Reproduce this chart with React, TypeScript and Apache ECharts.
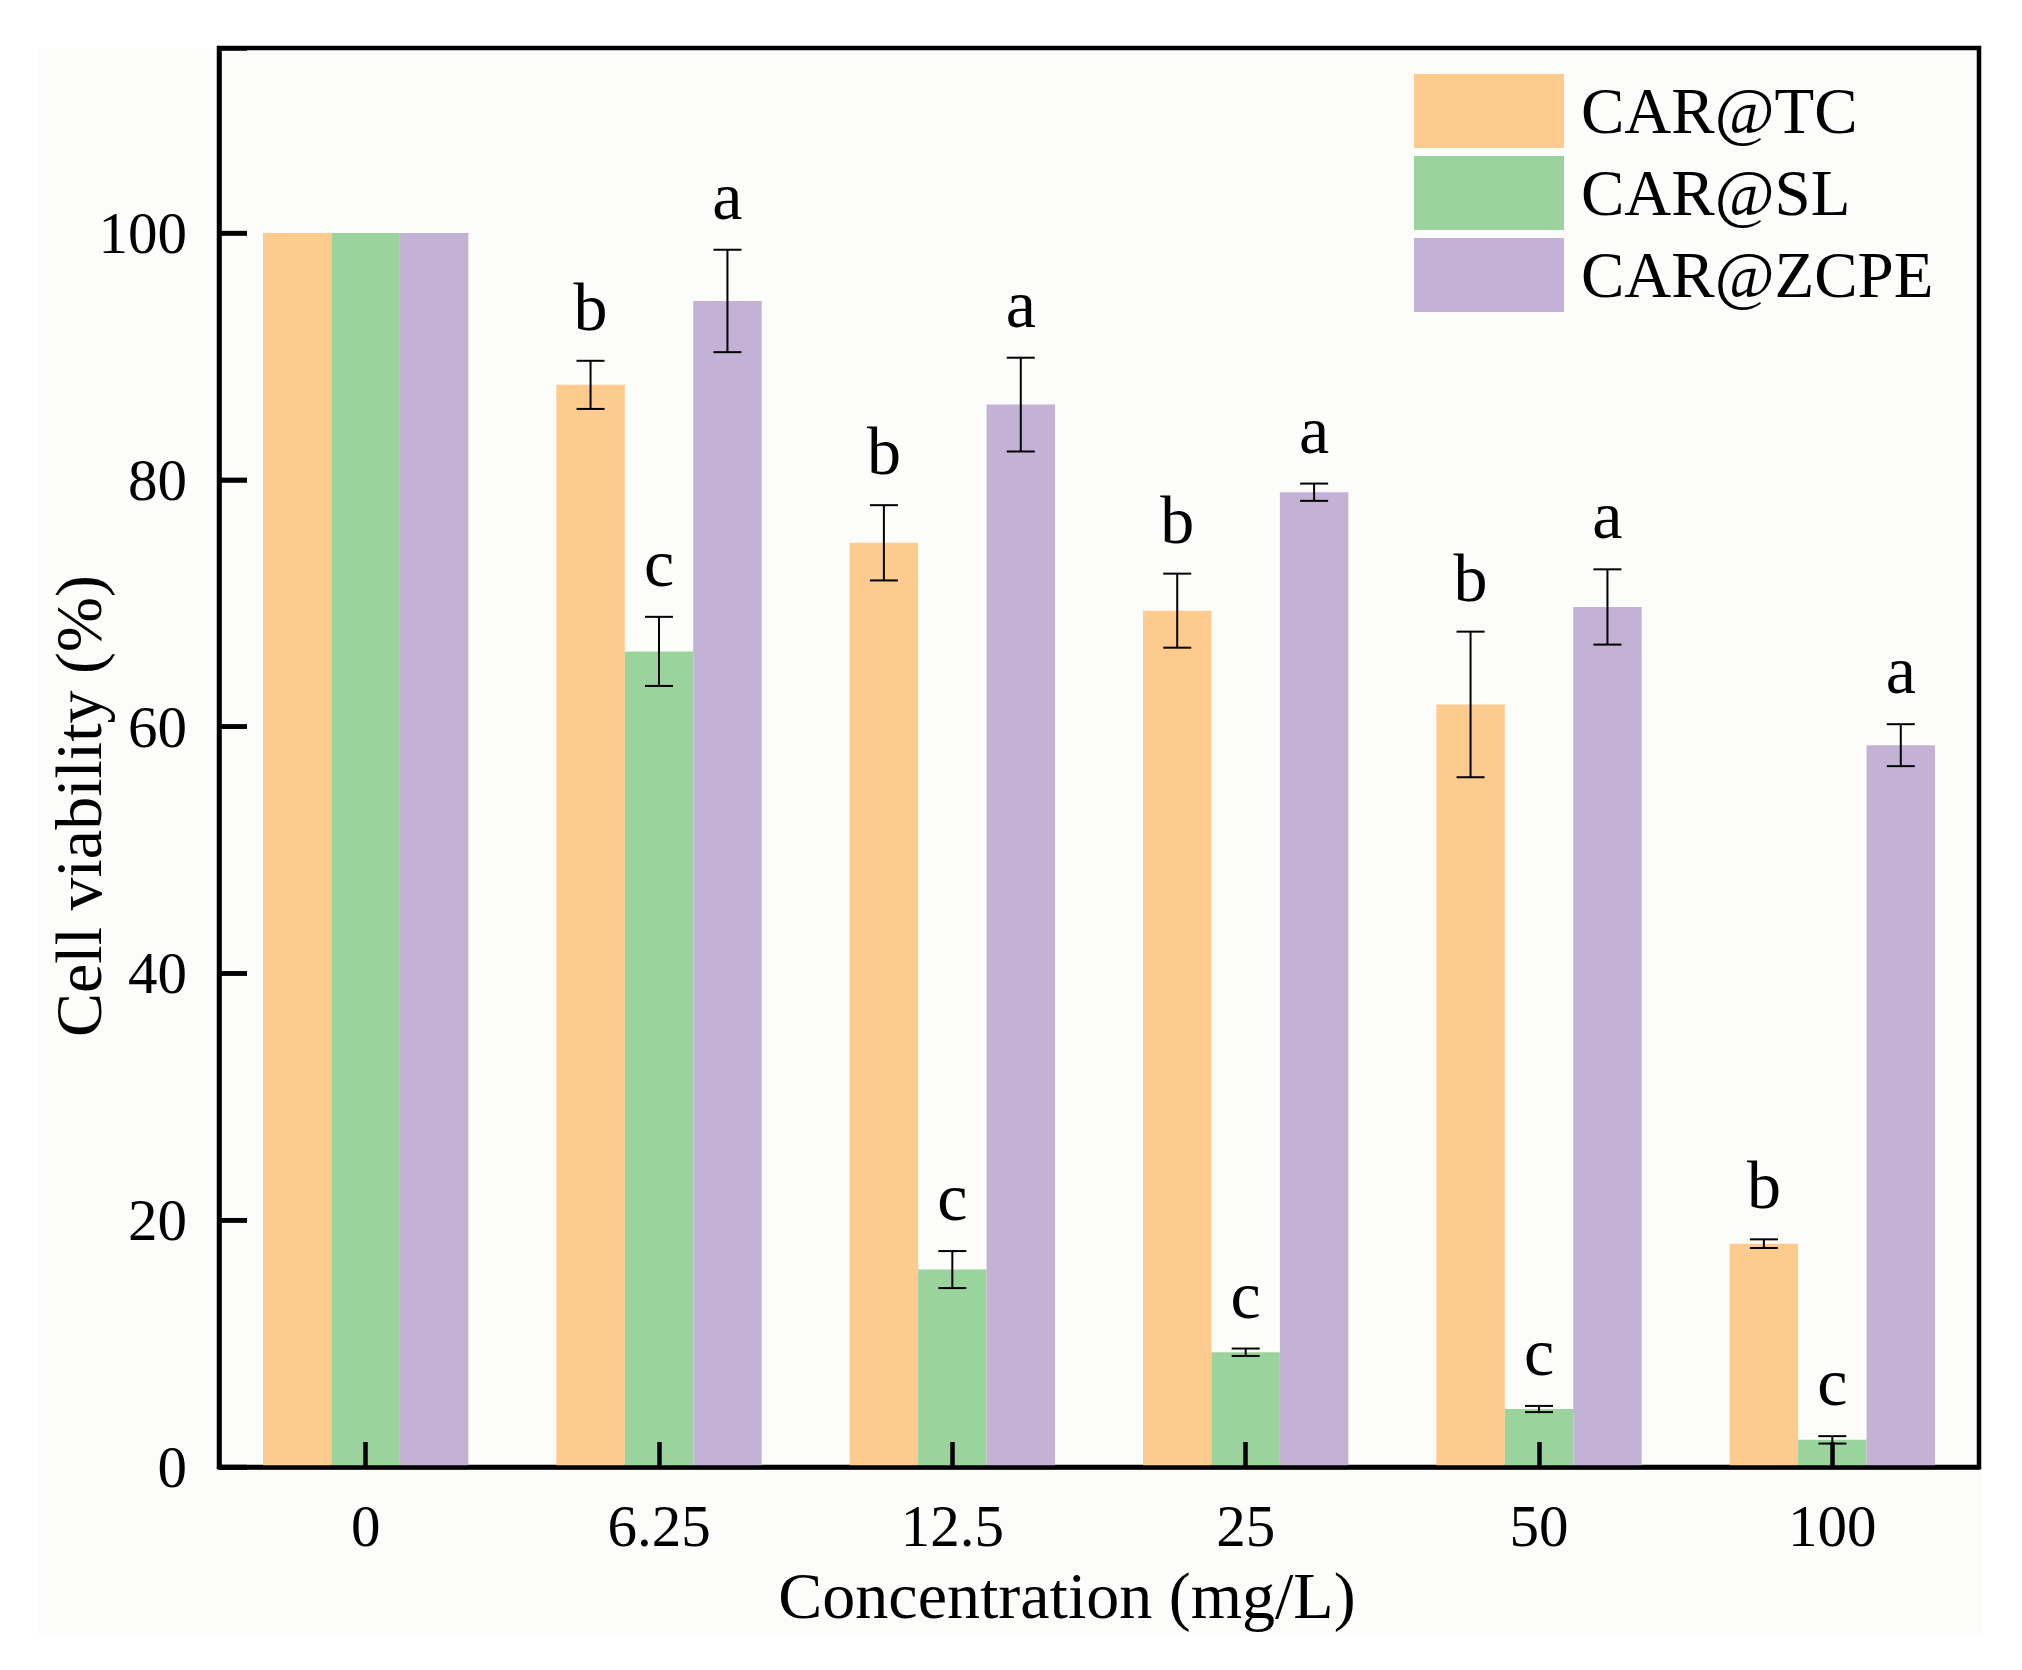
import React, { useEffect, useRef } from "react";
import * as echarts from "echarts";

const categories = ["0", "6.25", "12.5", "25", "50", "100"];
const seriesNames = ["CAR@TC", "CAR@SL", "CAR@ZCPE"];

const tcValues = [100, 87.7, 74.9, 69.4, 61.8, 18.1];
const tcErrors = [0, 1.95, 3.05, 3.0, 5.9, 0.35];
const tcLetters = ["", "b", "b", "b", "b", "b"];

const slValues = [100, 66.1, 16.0, 9.3, 4.7, 2.2];
const slErrors = [0, 2.8, 1.5, 0.3, 0.25, 0.3];
const slLetters = ["", "c", "c", "c", "c", "c"];

const zcpeValues = [100, 94.5, 86.1, 79.0, 69.7, 58.5];
const zcpeErrors = [0, 4.15, 3.8, 0.7, 3.05, 1.7];
const zcpeLetters = ["", "a", "a", "a", "a", "a"];

const yTicks = [0, 20, 40, 60, 80, 100];

const colors = ["#FECB8F", "#9AD39B", "#C4B2D6"];
const FONT = "'Liberation Serif', 'Times New Roman', serif";

export default function App() {
  const ref = useRef<HTMLDivElement>(null);

  useEffect(() => {
    if (!ref.current) return;
    const chart = echarts.init(ref.current, null, { renderer: "svg" });

    const groups = [
      { values: tcValues, errors: tcErrors, letters: tcLetters },
      { values: slValues, errors: slErrors, letters: slLetters },
      { values: zcpeValues, errors: zcpeErrors, letters: zcpeLetters },
    ];

    const barSeries = groups.map((g, si) => ({
      name: seriesNames[si],
      type: "bar",
      data: g.values,
      barGap: "0%",
      barCategoryGap: "30%",
      itemStyle: { color: colors[si] },
      z: 2,
    }));

    const errSeries = groups.map((g, si) => ({
      name: seriesNames[si] + " error",
      type: "custom",
      silent: true,
      z: 5,
      encode: { x: 0, y: 1 },
      data: g.values.map((v, i) => [i, v, g.errors[i]]),
      renderItem: (params: any, api: any) => {
        const idx = api.value(0);
        const val = api.value(1);
        const err = api.value(2);
        const letter = g.letters[params.dataIndex];
        if (!err) return { type: "group", children: [] };
        const band = api.size([1, 0])[0];
        const barW = (band * 0.7) / 3;
        const cx = api.coord([idx, val])[0] + (si - 1) * barW;
        const yTop = api.coord([idx, val + err])[1];
        const yBot = api.coord([idx, val - err])[1];
        const cap = 14;
        const ls = { stroke: "#000", lineWidth: 2 };
        return {
          type: "group",
          children: [
            { type: "line", shape: { x1: cx, y1: yTop, x2: cx, y2: yBot }, style: ls },
            { type: "line", shape: { x1: cx - cap, y1: yTop, x2: cx + cap, y2: yTop }, style: ls },
            { type: "line", shape: { x1: cx - cap, y1: yBot, x2: cx + cap, y2: yBot }, style: ls },
            {
              type: "text",
              style: {
                text: letter,
                x: cx,
                y: yTop - 20,
                align: "center",
                verticalAlign: "bottom",
                fontSize: 68,
                fontFamily: FONT,
                fill: "#000",
              },
            },
          ],
        };
      },
    }));

    // inward ticks of the y axis, placed through the axis scale
    const yTickSeries = {
      name: "y ticks",
      type: "custom",
      silent: true,
      z: 20,
      encode: { x: 0, y: 1 },
      data: yTicks.map((v) => [0, v]),
      renderItem: (params: any, api: any) => {
        const y = api.coord([0, api.value(1)])[1];
        const x0 = params.coordSys.x;
        return {
          type: "line",
          shape: { x1: x0, y1: y, x2: x0 + 28, y2: y },
          style: { stroke: "#000", lineWidth: 4.5 },
        };
      },
    };

    chart.setOption({
      animation: false,
      backgroundColor: "transparent",
      grid: {
        left: 219,
        top: 48,
        width: 1760,
        height: 1419,
        show: true,
        borderColor: "#000",
        borderWidth: 4.5,
        backgroundColor: "transparent",
      },
      legend: {
        data: seriesNames,
        orient: "vertical",
        left: 1409,
        top: 69,
        itemWidth: 150,
        itemHeight: 74,
        itemGap: 8,
        icon: "rect",
        selectedMode: false,
        textStyle: {
          fontSize: 65,
          fontFamily: FONT,
          color: "#000",
          padding: [0, 0, 0, 12],
        },
      },
      xAxis: {
        type: "category",
        data: categories,
        zlevel: 1,
        z: 10,
        axisLine: { lineStyle: { color: "#000", width: 4.5 } },
        axisTick: {
          show: true,
          alignWithLabel: true,
          inside: false,
          length: -25,
          lineStyle: { color: "#000", width: 4.5 },
        },
        axisLabel: {
          fontSize: 59,
          fontFamily: FONT,
          color: "#000",
          margin: 29,
        },
      },
      yAxis: {
        type: "value",
        min: 0,
        max: 115,
        interval: 20,
        zlevel: 1,
        z: 10,
        splitLine: { show: false },
        axisLine: { show: true, lineStyle: { color: "#000", width: 4.5 } },
        axisTick: {
          show: true,
          inside: true,
          length: 28,
          lineStyle: { color: "#000", width: 4.5 },
        },
        axisLabel: {
          fontSize: 59,
          fontFamily: FONT,
          color: "#000",
          margin: 32,
          formatter: (v: number) => (yTicks.indexOf(v) >= 0 ? String(v) : ""),
        },
      },
      graphic: [
        {
          type: "text",
          x: 1067,
          y: 1595,
          style: {
            text: "Concentration (mg/L)",
            align: "center",
            verticalAlign: "middle",
            fontSize: 66,
            fontFamily: FONT,
            fill: "#000",
          },
        },
        {
          type: "text",
          x: 78,
          y: 806,
          rotation: Math.PI / 2,
          style: {
            text: "Cell viability (%)",
            align: "center",
            verticalAlign: "middle",
            fontSize: 66,
            fontFamily: FONT,
            fill: "#000",
          },
        },
      ],
      series: [...barSeries, ...errSeries, yTickSeries],
    });

    return () => chart.dispose();
  }, []);

  return (
    <div
      style={{
        position: "fixed",
        left: 0,
        top: 0,
        width: 2022,
        height: 1670,
        background: "#ffffff",
      }}
    >
      <div
        style={{
          position: "absolute",
          left: 38,
          top: 48,
          width: 1943,
          height: 1587,
          background: "#FCFCFB",
        }}
      />
      <div
        ref={ref}
        style={{ position: "absolute", left: 0, top: 0, width: 2022, height: 1670 }}
      />
    </div>
  );
}
